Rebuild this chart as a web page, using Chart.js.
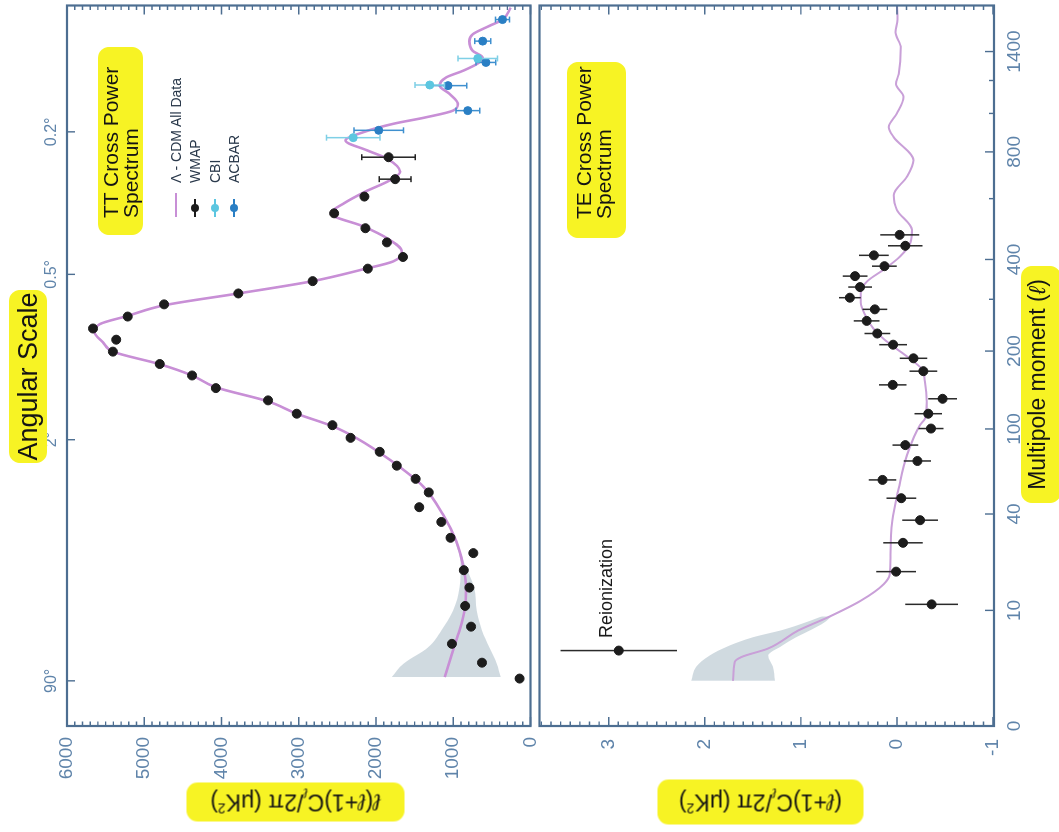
<!DOCTYPE html>
<html>
<head>
<meta charset="utf-8">
<title>TT and TE cross power spectra</title>
<script src="https://cdn.jsdelivr.net/npm/chart.js@4.4.1/dist/chart.umd.min.js"></script>
<style>
  html, body { margin: 0; padding: 0; background: #fff; overflow: hidden; }
  /* the figure is laid out upright (832 x 1059) and then turned a quarter left */
  #fig { position: absolute; left: 0; top: 0; width: 832px; height: 1059px;
         transform-origin: 0 0; transform: translate(0, 832px) rotate(-90deg);
         font-family: "Liberation Sans", Arial, "DejaVu Sans", sans-serif; }
  #fig canvas { position: absolute; left: 0; }
  .hl { position: absolute; background: #f7f324; border-radius: 11px; white-space: nowrap; color: #141414; }
  .txt { position: absolute; white-space: nowrap; color: #1a1a1a; }
  sub, sup { font-size: 0.6em; line-height: 0; }
  .lg { position: absolute; left: 615px; top: 166px; font-size: 14px; color: #2b3a4c; }
  .lg div { display: flex; align-items: center; height: 19.5px; white-space: nowrap; }
  .mk { position: relative; width: 24px; height: 10px; margin-right: 10px; display: inline-block; }
  .mk .bar { position: absolute; left: 0; top: 4px; width: 18px; height: 2px; }
  .mk .dot { position: absolute; left: 5px; top: 1px; width: 8px; height: 8px; border-radius: 50%; }
</style>
</head>
<body>
<div id="fig">
  <canvas id="ttChart" width="832" height="536" style="top:0"></canvas>
  <canvas id="teChart" width="832" height="525" style="top:534px"></canvas>

  <div class="hl" style="left:369px;top:9px;width:173px;height:38px;line-height:38px;text-align:center;font-size:27px">Angular Scale</div>
  <div class="hl" style="left:329px;top:1021px;width:237px;height:40px;line-height:32px;text-align:center;font-size:23px">Multipole moment (<i>ℓ</i>)</div>
  <div class="hl" style="left:-79.5px;top:275.5px;width:218px;height:39px;line-height:39px;text-align:center;font-size:23px;transform:rotate(-90deg)"><i>ℓ</i>(<i>ℓ</i>+1)C<sub><i>ℓ</i></sub>/2π (μK<sup>2</sup>)</div>
  <div class="hl" style="left:-73.5px;top:737.5px;width:206px;height:45px;line-height:45px;text-align:center;font-size:23px;transform:rotate(-90deg)">(<i>ℓ</i>+1)C<sub><i>ℓ</i></sub>/2π (μK<sup>2</sup>)</div>

  <div class="hl" style="left:597px;top:98px;width:188px;height:45px;padding:3px 0 0 17px;box-sizing:border-box;line-height:20px;font-size:21px">TT Cross Power<br>Spectrum</div>
  <div class="hl" style="left:594px;top:567px;width:176px;height:59px;padding:7px 0 0 19px;box-sizing:border-box;line-height:20px;font-size:21px">TE Cross Power<br>Spectrum</div>

  <div class="lg">
    <div><span class="mk"><span class="bar" style="width:24px;background:#c88fd6"></span></span>Λ - CDM All Data</div>
    <div><span class="mk"><span class="bar" style="background:#1c1c1c"></span><span class="dot" style="background:#1c1c1c"></span></span>WMAP</div>
    <div><span class="mk"><span class="bar" style="background:#5cc6e0"></span><span class="dot" style="background:#5cc6e0"></span></span>CBI</div>
    <div><span class="mk"><span class="bar" style="background:#2a7fc4"></span><span class="dot" style="background:#2a7fc4"></span></span>ACBAR</div>
  </div>

  <div class="txt" style="left:194px;top:595px;font-size:18px;line-height:22px">Reionization</div>
</div>

<script>
// ---- TT spectrum (uK^2) ----
const wmapTTEll = [2.15, 3.36, 5.23, 7.42, 10.8, 14.6, 19.0, 24.2, 29.7, 36.3, 43.4, 51.5, 59.9, 69.0, 79.7,
  91.7, 103.7, 115.6, 130.7, 145.9, 162.9, 179.6, 199.1, 219.4, 239.8, 263.2, 288.8, 313.3, 342.9, 375,
  407, 450, 495, 546, 608, 678, 775];
const wmapTTPower = [141, 628, 1017, 769, 846, 791, 863, 740, 1035, 1154, 1440, 1317, 1487, 1731, 1952,
  2329, 2564, 3026, 3397, 4073, 4381, 4799, 5406, 5363, 5663, 5214, 4743, 3782, 2820, 2106,
  1651, 1859, 2137, 2542, 2150, 1752, 1837];
const wmapTTErr = [0, 0, 0, 0, 0, 0, 0, 0, 0, 0, 0, 0, 0, 0, 0,
  0, 0, 0, 0, 0, 0, 0, 0, 0, 0, 0, 0, 0, 0, 0,
  0, 0, 0, 0, 0, 205, 346];

const cbiEll = [870, 1171, 1350];
const cbiPower = [2295, 1304, 683];
const cbiErr = [346, 192, 256];

const acbarEll = [908, 1016, 1167, 1322, 1478, 1650];
const acbarPower = [1965, 812, 1068, 577, 619, 363];
const acbarErr = [320, 154, 244, 128, 103, 90];

const modelTTEll = [2.25, 4.51, 6.87, 9.94, 14.6, 20.7, 28.4, 39.7, 55.0, 73.2, 91.1, 102.7, 115.6, 129.5, 147.2,
  162.9, 179.6, 199.1, 214.7, 232.4, 248.0, 264.6, 286.7, 313.3, 342.9, 372.5, 395.0, 423.1, 463.1, 500.6,
  546.2, 582.5, 627.3, 673.7, 709.4, 768.7, 807.4, 855.9, 899, 942.9, 979, 1016, 1055, 1115, 1167,
  1221, 1264, 1322, 1357, 1405, 1478, 1531, 1597, 1650, 1751];
const modelTTPower = [1111, 1004, 919, 855, 833, 876, 962, 1132, 1388, 1817, 2244, 2564, 3026, 3397, 4081,
  4381, 4808, 5406, 5534, 5641, 5577, 5214, 4743, 3782, 2820, 2180, 1773, 1667, 1859, 2158,
  2586, 2414, 2137, 1817, 1688, 1859, 2115, 2394, 2158, 1773, 1346, 1004, 940, 1047, 1176,
  1090, 876, 663, 619, 747, 791, 747, 535, 363, 256];

// cosmic variance band at low l
const bandTTEll = [2.25, 3.27, 4.86, 6.87, 9.94, 14.6, 20.7, 28.4];
const bandTTHigh = [1795, 1645, 1324, 1154, 1004, 919, 905, 975];
const bandTTLow = [385, 436, 535, 628, 696, 727, 850, 950];

// ---- TE spectrum (uK^2) ----
const wmapTEEll = [11.1, 18.6, 27.8, 37.1, 48.2, 59.2, 72.5, 85.3, 100.4, 115.6, 132.6, 150.1, 169.0, 188.4, 210.7,
  230.5, 254.5, 278.1, 303.6, 328.4, 355.5, 381.6, 411.7, 439.7, 473.5];
const wmapTEPower = [-0.361, 0.009, -0.063, -0.241, -0.045, 0.150, -0.213, -0.087, -0.354, -0.326, -0.475, 0.044, -0.275, -0.172, 0.040,
  0.205, 0.315, 0.230, 0.490, 0.384, 0.436, 0.130, 0.240, -0.087, -0.028];
const wmapTEErr = [0.275, 0.206, 0.206, 0.185, 0.155, 0.144, 0.141, 0.134, 0.13, 0.144, 0.149, 0.144, 0.144, 0.144, 0.144,
  0.134, 0.134, 0.129, 0.113, 0.124, 0.129, 0.129, 0.154, 0.180, 0.203];

const reionEll = [4.5];
const reionPower = [2.895];
const reionErr = [0.606];

const modelTEEll = [2, 3.42, 3.87, 4.72, 6.87, 8.82, 11.8, 15.4, 17.9, 23.8, 36.6, 54.0, 77.1, 104.0, 110.4,
  128.8, 153.7, 172.3, 187.3, 203.3, 220.4, 238.5, 264.6, 292.6, 314.8, 342.9, 372.5, 409.0, 447.8, 489.5,
  557.9, 613.8, 688.2, 760.7, 873, 925, 1000, 1097, 1177, 1242, 1428, 1547, 1650, 1770];
const modelTEPower = [1.705, 1.688, 1.618, 1.340, 1.03, 0.720, 0.377, 0.137, 0.075, 0.068, 0.050, -0.018, -0.104, -0.241, -0.292,
  -0.310, -0.292, -0.258, -0.138, 0.000, 0.137, 0.240, 0.325, 0.377, 0.377, 0.308, 0.137, -0.035, -0.138, -0.156,
  0.000, 0.034, -0.104, -0.172, 0.034, 0.085, 0.000, -0.069, 0.010, -0.018, -0.040, 0.016, -0.005, 0.000];

const bandTEEll = [2, 3, 4, 5, 6, 7, 8, 9];
const bandTEHigh = [2.14, 2.09, 1.95, 1.75, 1.50, 1.18, 0.96, 0.78];
const bandTELow = [1.27, 1.29, 1.34, 1.20, 1.05, 0.89, 0.76, 0.68];

// ---- axes ----
const ellTicks = [0, 10, 40, 100, 200, 400, 800, 1400];
const ellMinorTicks = [300, 600, 1000, 1200];
const angularDeg = [90, 2, 0.5, 0.2];
const ttTicks = [0, 1000, 2000, 3000, 4000, 5000, 6000];
const teTicks = [-1, 0, 1, 2, 3];

// multipole axis is a power-law stretch of l
const ELL_POWER = 0.23;
const ELL_MAX = 1770;
const warp = l => Math.pow(Math.max(l, 0) + 1, ELL_POWER) - 1;
const unwarp = w => Math.pow(w + 1, 1 / ELL_POWER) - 1;

class MultipoleScale extends Chart.LinearScale {
  static id = 'multipole';
  getPixelForValue(value) {
    const lo = warp(this.min), hi = warp(this.max);
    return this.getPixelForDecimal((warp(value) - lo) / (hi - lo));
  }
  getValueForPixel(pixel) {
    const lo = warp(this.min), hi = warp(this.max);
    return unwarp(lo + this.getDecimalForPixel(pixel) * (hi - lo));
  }
}
Chart.register(MultipoleScale);

Chart.defaults.font.family = '"Liberation Sans", Arial, sans-serif';

const LABEL_COLOR = '#5f84aa';
const FRAME_COLOR = '#4d6e91';
const BAND_COLOR = 'rgba(200,212,219,0.85)';

const pts = (xs, ys) => xs.map((x, i) => ({ x: x, y: ys[i] }));
const steps = (from, to, step) => {
  const out = [];
  for (let v = from; v <= to + 1e-9; v += step) out.push(Math.round(v * 1000) / 1000);
  return out;
};

function ellAxis(position, values, labels, fontSize, height) {
  return {
    type: 'multipole', position: position, min: 0, max: ELL_MAX,
    grid: { display: false, drawTicks: false }, border: { display: false },
    afterBuildTicks: s => { s.ticks = values.map(v => ({ value: v })); },
    afterFit: s => { s.height = height; s.paddingLeft = 0; s.paddingRight = 0; },
    ticks: { autoSkip: false, maxRotation: 0, minRotation: 0, padding: position === 'top' ? 6 : 9,
      color: LABEL_COLOR, font: { size: fontSize }, callback: (v, i) => labels[i] }
  };
}

function powerAxis(min, max, values, pad) {
  return {
    type: 'linear', min: min, max: max,
    grid: { display: false, drawTicks: false }, border: { display: false },
    afterBuildTicks: s => { s.ticks = values.map(v => ({ value: v })); },
    afterFit: s => { s.width = 106; s.paddingTop = 0; s.paddingBottom = 0; },
    ticks: { padding: pad, minRotation: 0, maxRotation: 0, color: LABEL_COLOR, font: { size: 19 },
      callback: v => String(v) }
  };
}

// box round the plot with inward tick marks
function frameTicks(spec) {
  return {
    id: 'frameTicks',
    afterDatasetsDraw(chart) {
      const { ctx, chartArea: a } = chart;
      const xs = chart.scales.x, ys = chart.scales.y;
      ctx.save();
      ctx.strokeStyle = FRAME_COLOR;
      ctx.lineWidth = 1.4;
      ctx.beginPath();
      const side = (vals, len) => vals.forEach(v => {
        const p = ys.getPixelForValue(v);
        ctx.moveTo(a.left, p); ctx.lineTo(a.left + len, p);
        ctx.moveTo(a.right, p); ctx.lineTo(a.right - len, p);
      });
      const edge = (vals, len, top) => vals.forEach(v => {
        const p = xs.getPixelForValue(v);
        const y0 = top ? a.top : a.bottom;
        ctx.moveTo(p, y0); ctx.lineTo(p, top ? y0 + len : y0 - len);
      });
      side(spec.yMajor, 9);
      side(spec.yMinor, 4.5);
      if (spec.xTop) edge(spec.xTop, 8, true);
      if (spec.xMajor) edge(spec.xMajor, 9, false);
      if (spec.xMinor) edge(spec.xMinor, 5, false);
      ctx.stroke();
      ctx.lineWidth = 2.2;
      ctx.strokeRect(a.left, a.top, a.right - a.left, a.bottom - a.top);
      ctx.restore();
    }
  };
}

const errorBars = {
  id: 'errorBars',
  beforeDatasetDraw(chart, args) {
    const ds = chart.data.datasets[args.index];
    if (!ds.errors) return;
    const xs = chart.scales[args.meta.xAxisID], ys = chart.scales[args.meta.yAxisID];
    const ctx = chart.ctx;
    const cap = ds.errorCap || 0;
    ctx.save();
    ctx.strokeStyle = ds.errorColor;
    ctx.lineWidth = 1.5;
    ctx.beginPath();
    ds.data.forEach((p, i) => {
      const e = ds.errors[i];
      if (!e) return;
      const x = xs.getPixelForValue(p.x);
      const y1 = ys.getPixelForValue(p.y - e), y2 = ys.getPixelForValue(p.y + e);
      ctx.moveTo(x, y1); ctx.lineTo(x, y2);
      if (cap) {
        ctx.moveTo(x - cap, y1); ctx.lineTo(x + cap, y1);
        ctx.moveTo(x - cap, y2); ctx.lineTo(x + cap, y2);
      }
    });
    ctx.stroke();
    ctx.restore();
  }
};

const common = {
  responsive: false, animation: false, devicePixelRatio: 1, events: [],
  plugins: { legend: { display: false }, tooltip: { enabled: false } }
};

// ---- TT panel ----
new Chart(document.getElementById('ttChart'), {
  type: 'scatter',
  data: {
    datasets: [
      { label: 'WMAP', data: pts(wmapTTEll, wmapTTPower), errors: wmapTTErr, errorColor: '#222', errorCap: 3,
        pointRadius: 4.5, backgroundColor: '#1c1c1c', borderColor: '#1c1c1c', order: 0 },
      { label: 'CBI', data: pts(cbiEll, cbiPower), errors: cbiErr, errorColor: '#7fd0e6', errorCap: 3,
        pointRadius: 4, backgroundColor: '#5cc6e0', borderColor: '#5cc6e0', order: 0 },
      { label: 'ACBAR', data: pts(acbarEll, acbarPower), errors: acbarErr, errorColor: '#3f90cf', errorCap: 3,
        pointRadius: 4, backgroundColor: '#2a7fc4', borderColor: '#2a7fc4', order: 0 },
      { label: 'Λ - CDM All Data', data: pts(modelTTEll, modelTTPower), showLine: true, pointRadius: 0,
        borderColor: '#c88fd6', borderWidth: 2.6, cubicInterpolationMode: 'monotone', order: 1 },
      { label: 'band high', data: pts(bandTTEll, bandTTHigh), showLine: true, pointRadius: 0,
        borderWidth: 0, borderColor: 'rgba(0,0,0,0)', fill: '+1', backgroundColor: BAND_COLOR,
        cubicInterpolationMode: 'monotone', order: 2 },
      { label: 'band low', data: pts(bandTTEll, bandTTLow), showLine: true, pointRadius: 0,
        borderWidth: 0, borderColor: 'rgba(0,0,0,0)', cubicInterpolationMode: 'monotone', order: 3 }
    ]
  },
  options: Object.assign({}, common, {
    layout: { padding: { top: 0, right: 1, bottom: 1, left: 0 } },
    scales: {
      x: ellAxis('top', angularDeg.map(a => 180 / a), angularDeg.map(a => a + '°'), 16, 67),
      y: powerAxis(0, 6000, ttTicks, 11)
    }
  }),
  plugins: [errorBars, frameTicks({
    yMajor: ttTicks, yMinor: steps(0, 6000, 100), xTop: angularDeg.map(a => 180 / a)
  })]
});

// ---- TE panel ----
new Chart(document.getElementById('teChart'), {
  type: 'scatter',
  data: {
    datasets: [
      { label: 'WMAP TE', data: pts(wmapTEEll, wmapTEPower), errors: wmapTEErr, errorColor: '#2a2a2a',
        pointRadius: 4.5, backgroundColor: '#1c1c1c', borderColor: '#1c1c1c', order: 0 },
      { label: 'Reionization', data: pts(reionEll, reionPower), errors: reionErr, errorColor: '#2a2a2a',
        pointRadius: 4.5, backgroundColor: '#1c1c1c', borderColor: '#1c1c1c', order: 0 },
      { label: 'Λ - CDM', data: pts(modelTEEll, modelTEPower), showLine: true, pointRadius: 0,
        borderColor: '#c9a0d8', borderWidth: 2, cubicInterpolationMode: 'monotone', order: 1 },
      { label: 'band high', data: pts(bandTEEll, bandTEHigh), showLine: true, pointRadius: 0,
        borderWidth: 0, borderColor: 'rgba(0,0,0,0)', fill: '+1', backgroundColor: BAND_COLOR,
        cubicInterpolationMode: 'monotone', order: 2 },
      { label: 'band low', data: pts(bandTEEll, bandTELow), showLine: true, pointRadius: 0,
        borderWidth: 0, borderColor: 'rgba(0,0,0,0)', cubicInterpolationMode: 'monotone', order: 3 }
    ]
  },
  options: Object.assign({}, common, {
    layout: { padding: { top: 1, right: 1, bottom: 0, left: 0 } },
    scales: {
      x: ellAxis('bottom', ellTicks, ellTicks.map(String), 19, 65),
      y: powerAxis(-1.01, 3.72, teTicks, 13)
    }
  }),
  plugins: [errorBars, frameTicks({
    yMajor: teTicks, yMinor: steps(-1, 3.7, 0.1), xMajor: ellTicks, xMinor: ellMinorTicks
  })]
});
</script>
</body>
</html>
